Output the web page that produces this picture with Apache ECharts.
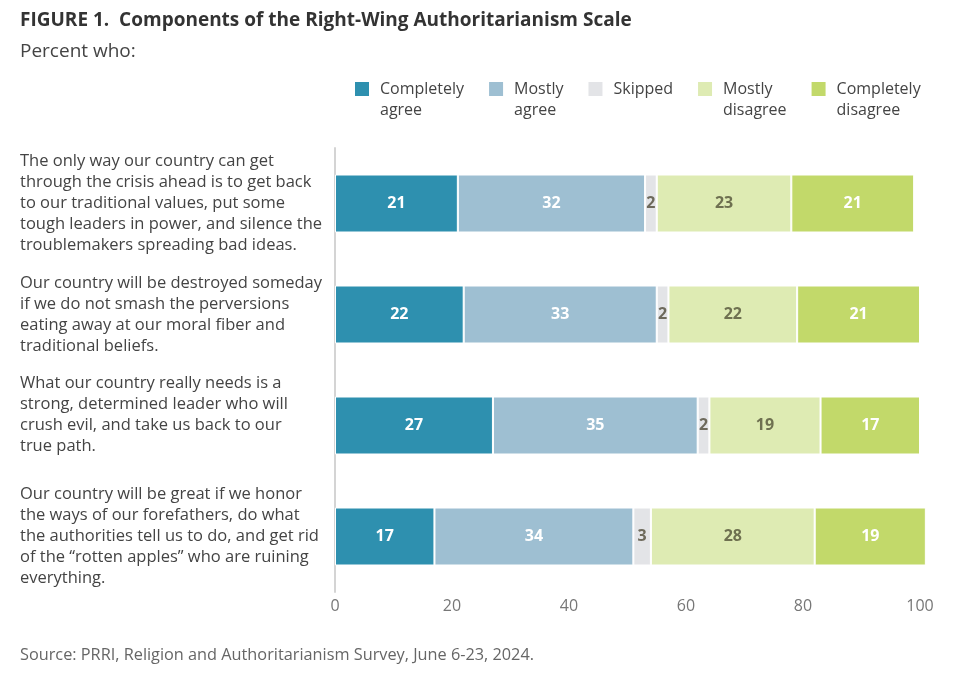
<!DOCTYPE html>
<html><head><meta charset="utf-8">
<script src="https://cdn.jsdelivr.net/npm/echarts@6/dist/echarts.min.js"></script>
<style>html,body{margin:0;padding:0;background:#fff}#c{width:960px;height:687px}</style>
</head><body><div id="c"></div>
<script>
const categories = [
  "The only way our country can get\nthrough the crisis ahead is to get back\nto our traditional values, put some\ntough leaders in power, and silence the\ntroublemakers spreading bad ideas.",
  "Our country will be destroyed someday\nif we do not smash the perversions\neating away at our moral fiber and\ntraditional beliefs.",
  "What our country really needs is a\nstrong, determined leader who will\ncrush evil, and take us back to our\ntrue path.\n ",
  "Our country will be great if we honor\nthe ways of our forefathers, do what\nthe authorities tell us to do, and get rid\nof the \u201crotten apples\u201d who are ruining\neverything."
];
const seriesNames = ["Completely\nagree", "Mostly\nagree", "Skipped", "Mostly\ndisagree", "Completely\ndisagree"];
const completelyAgree = [21, 22, 27, 17];
const mostlyAgree = [32, 33, 35, 34];
const skipped = [2, 2, 2, 3];
const mostlyDisagree = [23, 22, 19, 28];
const completelyDisagree = [21, 21, 17, 19];
const xTicks = [0, 20, 40, 60, 80, 100];

const colors = ["#2E90AF", "#9EBFD2", "#E3E4E7", "#DEEBB3", "#C2D96A"];
const labelColors = ["#fff", "#fff", "#6E6A5C", "#6E7050", "#fff"];
const values = [completelyAgree, mostlyAgree, skipped, mostlyDisagree, completelyDisagree];
const FONT = "'Open Sans', sans-serif";

const chart = echarts.init(document.getElementById('c'), null, {renderer: 'canvas'});
chart.setOption({
  animation: false,
  textStyle: {fontFamily: FONT},
  title: [
    {text: "FIGURE 1.  Components of the Right-Wing Authoritarianism Scale", left: 15, top: 6,
     textStyle: {fontFamily: FONT, fontWeight: 'bold', fontSize: 19, color: '#333'}},
    {text: "Percent who:", left: 15, top: 37,
     textStyle: {fontFamily: FONT, fontWeight: 'normal', fontSize: 19, color: '#444'}},
    {text: "Source: PRRI, Religion and Authoritarianism Survey, June 6-23, 2024.", left: 15, top: 642,
     textStyle: {fontFamily: FONT, fontWeight: 'normal', fontSize: 16.3, color: '#666'}}
  ],
  legend: {
    left: 348, top: 74,
    itemWidth: 16, itemHeight: 38, itemGap: 23,
    icon: 'path://M0,0H16V16H0Z M0,38H16',
    formatter: name => name.includes('\n') ? name : name + '\n ',
    textStyle: {fontFamily: FONT, fontSize: 16, color: '#444', lineHeight: 21, padding: [0, 0, 0, 5]},
    data: seriesNames
  },
  grid: {left: 335, right: 40, top: 148, bottom: 95, containLabel: false},
  xAxis: {
    type: 'value', min: 0, max: 100, interval: 20,
    axisLine: {show: false}, axisTick: {show: false}, splitLine: {show: false},
    axisLabel: {color: '#777', fontSize: 16, margin: 6, fontFamily: FONT,
      formatter: v => xTicks.includes(v) ? String(v) : ''}
  },
  yAxis: {
    type: 'category', inverse: true, data: categories,
    axisLine: {show: true, lineStyle: {color: '#d4d4d4', width: 2}},
    axisTick: {show: false},
    axisLabel: {align: 'left', margin: 315, color: '#444', fontSize: 16.5, lineHeight: 21, fontFamily: FONT}
  },
  series: values.map((vals, i) => ({
    name: seriesNames[i], type: 'bar', stack: 'total', barWidth: 58, clip: false,
    data: vals,
    itemStyle: {color: colors[i], borderColor: '#fff', borderWidth: 1},
    label: {show: true, position: 'inside', color: labelColors[i], fontWeight: 'bold', fontSize: 16, fontFamily: FONT}
  }))
});
</script></body></html>
